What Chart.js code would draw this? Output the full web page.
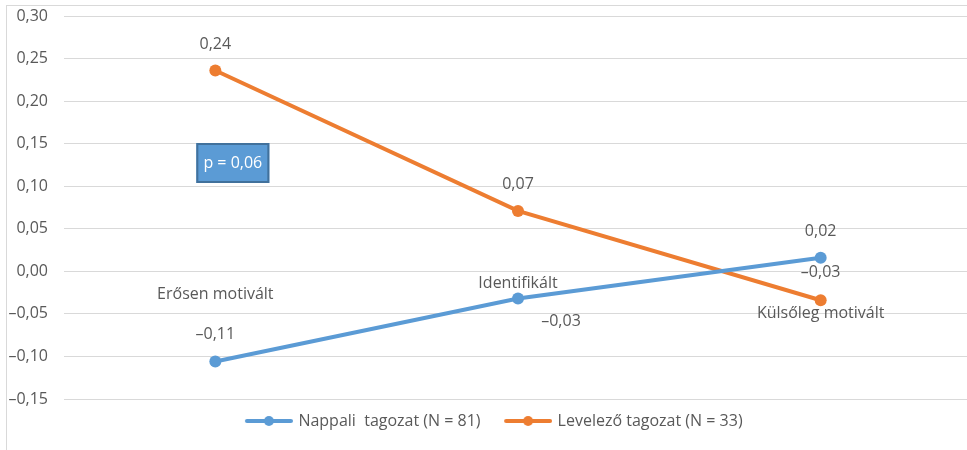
<!DOCTYPE html>
<html>
<head>
<meta charset="utf-8">
<script src="https://cdn.jsdelivr.net/npm/chart.js@4"></script>
<style>
  html, body { margin: 0; padding: 0; background: #fff; overflow: hidden; }
  canvas { display: block; }
</style>
</head>
<body>
<canvas id="chart" width="978" height="450"></canvas>
<script>
const categories = ['Erősen motivált', 'Identifikált', 'Külsőleg motivált'];
const nappali = [-0.106, -0.032, 0.016];
const levelezo = [0.236, 0.071, -0.034];
const seriesNames = ['Nappali  tagozat (N = 81)', 'Levelező tagozat (N = 33)'];
const pText = 'p = 0,06';

const blue = '#5b9bd5';
const orange = '#ed7d31';
const gray = '#595959';
const font = '"Open Sans", sans-serif';

function fmt(v) {
  if (Math.abs(v) < 1e-9) v = 0;
  let s = v.toFixed(2).replace('.', ',');
  return s.replace('-', '\u2013');
}

// legend symbol: short line with a dot (blank space on the left)
function legendIcon(color) {
  const c = document.createElement('canvas');
  c.width = 60; c.height = 14;
  const g = c.getContext('2d');
  g.strokeStyle = color;
  g.lineWidth = 4;
  g.lineCap = 'round';
  g.beginPath(); g.moveTo(14, 7); g.lineTo(58, 7); g.stroke();
  g.fillStyle = color;
  g.beginPath(); g.arc(36, 7, 5, 0, Math.PI * 2); g.fill();
  return c;
}
const icons = [legendIcon(blue), legendIcon(orange)];

// value labels offsets [dx, dy] per dataset / point
const labelOffsets = [
  [[0, -27], [43, 23], [0, -26]],
  [[0, -26], [0, -26], [0, -28]]
];
// category labels, vertical offset from the zero line
const catOffsets = [23, 12, 42];

const extras = {
  id: 'extras',
  beforeDraw(chart) {
    const ctx = chart.ctx;
    ctx.save();
    ctx.strokeStyle = '#d9d9d9';
    ctx.lineWidth = 1;
    ctx.strokeRect(6.5, 5.5, 2000, 2000);
    ctx.restore();
  },
  afterDatasetsDraw(chart) {
    const ctx = chart.ctx;
    const x = chart.scales.x, y = chart.scales.y;
    ctx.save();
    ctx.font = '16px ' + font;
    ctx.fillStyle = gray;
    ctx.textAlign = 'center';
    ctx.textBaseline = 'middle';
    // category names
    categories.forEach((c, i) => {
      ctx.fillText(c, x.getPixelForValue(i), y.getPixelForValue(0) + catOffsets[i]);
    });
    // value labels
    chart.data.datasets.forEach((ds, di) => {
      chart.getDatasetMeta(di).data.forEach((pt, i) => {
        const o = labelOffsets[di][i];
        ctx.fillText(fmt(ds.data[i]), pt.x + o[0], pt.y + o[1]);
      });
    });
    // p-value box
    const bx = x.getPixelForValue(0) - 19, by = chart.chartArea.top + 127;
    ctx.fillStyle = blue;
    ctx.fillRect(bx, by, 73, 40);
    ctx.strokeStyle = '#41719c';
    ctx.lineWidth = 2;
    ctx.strokeRect(bx + 1, by + 1, 71, 38);
    ctx.fillStyle = '#fff';
    ctx.font = '16px ' + font;
    ctx.fillText(pText, bx + 36.5, by + 20);
    ctx.restore();
  }
};

new Chart(document.getElementById('chart'), {
  type: 'line',
  data: {
    labels: categories,
    datasets: [
      {
        label: seriesNames[0],
        data: nappali,
        borderColor: blue,
        backgroundColor: blue,
        borderWidth: 4,
        pointRadius: 6,
        pointHoverRadius: 6,
        pointBorderWidth: 0,
        tension: 0
      },
      {
        label: seriesNames[1],
        data: levelezo,
        borderColor: orange,
        backgroundColor: orange,
        borderWidth: 4,
        pointRadius: 6,
        pointHoverRadius: 6,
        pointBorderWidth: 0,
        tension: 0
      }
    ]
  },
  options: {
    responsive: false,
    animation: false,
    devicePixelRatio: 1,
    layout: { padding: { top: 16, bottom: 11, left: 0, right: 0 } },
    plugins: {
      tooltip: { enabled: false },
      legend: {
        position: 'bottom',
        labels: {
          usePointStyle: true,
          pointStyleWidth: 55,
          padding: 14,
          color: gray,
          font: { family: font, size: 16 },
          generateLabels(chart) {
            const items = Chart.defaults.plugins.legend.labels.generateLabels(chart);
            items.forEach((it, i) => { it.pointStyle = icons[i]; });
            return items;
          }
        }
      }
    },
    scales: {
      x: {
        type: 'category',
        offset: true,
        display: false
      },
      y: {
        min: -0.15,
        max: 0.30,
        afterFit(scale) {
          scale.width = 64;
          scale.paddingTop = 0;
          scale.paddingBottom = 0;
        },
        border: { display: false },
        grid: { color: '#d9d9d9', drawTicks: false },
        ticks: {
          stepSize: 0.05,
          padding: 16,
          color: gray,
          font: { family: font, size: 16 },
          callback: v => fmt(v)
        }
      }
    }
  },
  plugins: [extras]
});
</script>
</body>
</html>
